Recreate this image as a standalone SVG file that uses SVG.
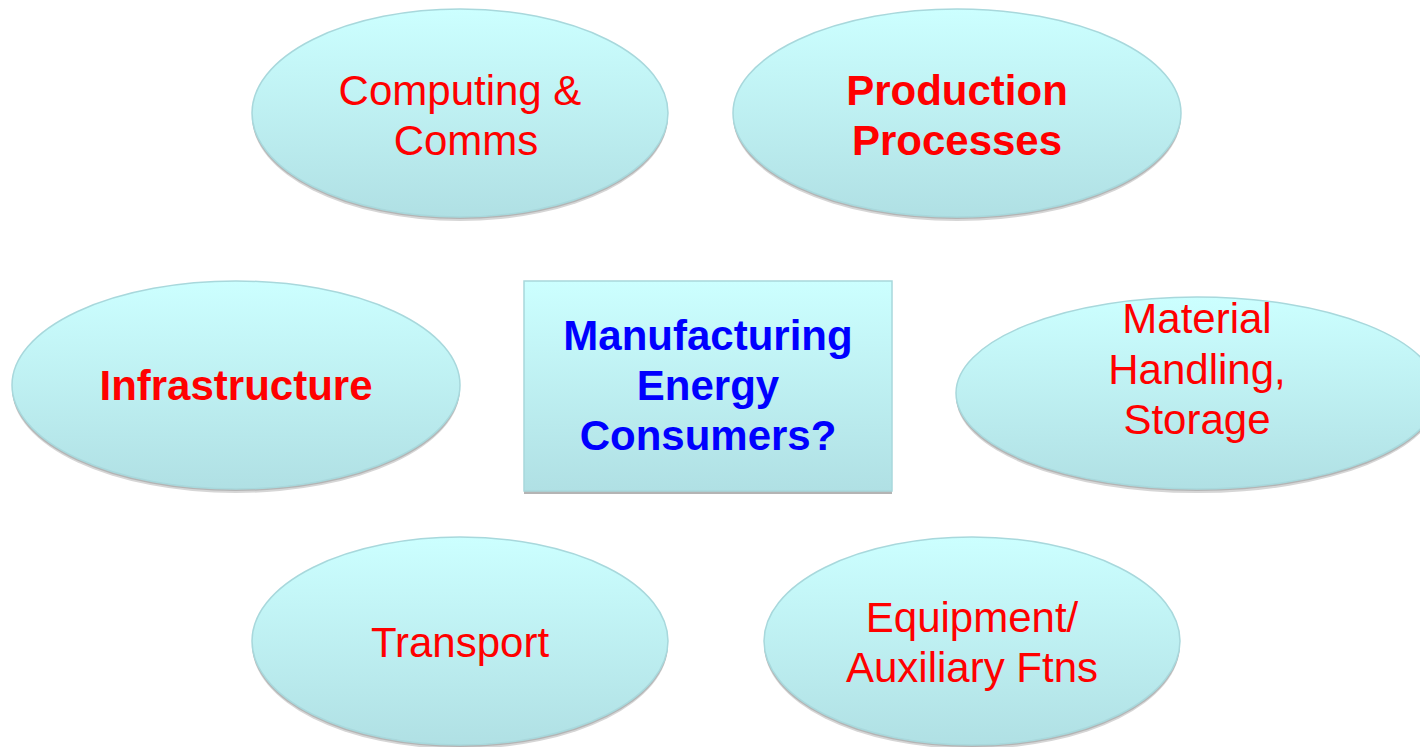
<svg xmlns="http://www.w3.org/2000/svg" width="1420" height="747" viewBox="0 0 1420 747">
<defs>
<linearGradient id="g" x1="0" y1="0" x2="0" y2="1">
<stop offset="0" stop-color="#CCFFFF"/>
<stop offset="1" stop-color="#B0E0E4"/>
</linearGradient>
<style>
.sh{fill:#B4B4B4}
.sh2{fill:#D6D6D6}
.nd{fill:url(#g);stroke:#A8D8DC;stroke-width:1.5}
.t{font-family:"Liberation Sans",Arial,sans-serif;font-size:42px;text-anchor:middle;fill:#FF0000}
.b{font-weight:bold}
.c{font-family:"Liberation Sans",Arial,sans-serif;font-size:42px;font-weight:bold;text-anchor:middle;fill:#0000FF}
</style>
</defs>
<rect width="1420" height="747" fill="#FFFFFF"/>
<g id="connectors"/>
<g id="n-computing">
<ellipse class="sh2" cx="460" cy="117" rx="208" ry="104"/>
<ellipse class="sh" cx="460" cy="116" rx="208" ry="103"/>
<ellipse class="nd" cx="460" cy="113" rx="208" ry="104"/>
<text class="t" x="460" y="105">Computing &amp;</text>
<text class="t" x="466" y="155">Comms</text>
</g>
<g id="n-production">
<ellipse class="sh2" cx="957" cy="117" rx="224" ry="104"/>
<ellipse class="sh" cx="957" cy="116" rx="224" ry="103"/>
<ellipse class="nd" cx="957" cy="113" rx="224" ry="104"/>
<text class="t b" x="957" y="105">Production</text>
<text class="t b" x="957" y="155">Processes</text>
</g>
<g id="n-infrastructure">
<ellipse class="sh2" cx="236" cy="389" rx="224" ry="104"/>
<ellipse class="sh" cx="236" cy="388" rx="224" ry="103"/>
<ellipse class="nd" cx="236" cy="385" rx="224" ry="104"/>
<text class="t b" x="236" y="400">Infrastructure</text>
</g>
<g id="n-center">
<rect class="sh" x="524" y="284" width="368" height="210"/>
<rect class="nd" x="524" y="281" width="368" height="210"/>
<text class="c" x="708" y="350">Manufacturing</text>
<text class="c" x="708" y="400">Energy</text>
<text class="c" x="708" y="450">Consumers?</text>
</g>
<g id="n-material">
<ellipse class="sh2" cx="1197" cy="397" rx="241" ry="96"/>
<ellipse class="sh" cx="1197" cy="396" rx="241" ry="95"/>
<ellipse class="nd" cx="1197" cy="393" rx="241" ry="96"/>
<text class="t" x="1197" y="333">Material</text>
<text class="t" x="1197" y="384">Handling,</text>
<text class="t" x="1197" y="434">Storage</text>
</g>
<g id="n-transport">
<ellipse class="sh2" cx="460" cy="645" rx="208" ry="104"/>
<ellipse class="sh" cx="460" cy="644" rx="208" ry="103"/>
<ellipse class="nd" cx="460" cy="641" rx="208" ry="104"/>
<text class="t" x="460" y="657">Transport</text>
</g>
<g id="n-equipment">
<ellipse class="sh2" cx="972" cy="645" rx="208" ry="104"/>
<ellipse class="sh" cx="972" cy="644" rx="208" ry="103"/>
<ellipse class="nd" cx="972" cy="641" rx="208" ry="104"/>
<text class="t" x="972" y="632">Equipment/</text>
<text class="t" x="972" y="682">Auxiliary Ftns</text>
</g>
</svg>
